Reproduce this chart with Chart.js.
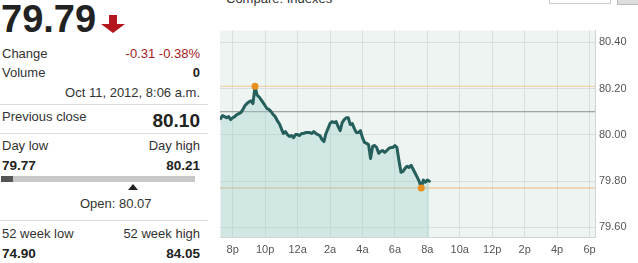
<!DOCTYPE html>
<html>
<head>
<meta charset="utf-8">
<script src="https://cdn.jsdelivr.net/npm/chart.js@4/dist/chart.umd.min.js"></script>
<style>
  body { margin: 0; width: 638px; height: 263px; overflow: hidden; background: #fff; font-family: "Liberation Sans", Arial, sans-serif; color: #333; position: relative; }
  .t { position: absolute; white-space: nowrap; font-size: 13px; line-height: 13px; }
  .r { right: 438px; text-align: right; }
  .l { left: 2px; }
  .b { font-weight: bold; color: #222; }
  .sep { position: absolute; left: 0; width: 208px; height: 1px; background: #dcdcdc; }
  #grafico { position: absolute; left: 210px; top: 20px; }
</style>
</head>
<body>

<div class="t b" style="left:1px;top:0;font-size:38px;line-height:38px;color:#222">79.79</div>
<svg style="position:absolute;left:101px;top:14px" width="26" height="20">
  <path d="M8 1 H16 V10 H24 L12 19 L0 10 H8 Z" fill="#b3161c"/>
</svg>

<div class="t l" style="top:47px">Change</div>
<div class="t r" style="top:47px;color:#a31a22">-0.31 -0.38%</div>
<div class="t l" style="top:66px">Volume</div>
<div class="t r b" style="top:66px">0</div>
<div class="t r" style="top:86px">Oct 11, 2012, 8:06 a.m.</div>
<div class="sep" style="top:104px"></div>

<div class="t l" style="top:110px">Previous close</div>
<div class="t r b" style="top:111px;font-size:19px;line-height:19px">80.10</div>
<div class="sep" style="top:133px"></div>

<div class="t l" style="top:139px">Day low</div>
<div class="t r" style="top:139px">Day high</div>
<div class="t l b" style="top:159px;font-size:13.5px">79.77</div>
<div class="t r b" style="top:159px;font-size:13.5px">80.21</div>
<div style="position:absolute;left:1px;top:176px;width:194px;height:6px;background:#c8c8c8"></div>
<div style="position:absolute;left:1px;top:176px;width:12px;height:6px;background:#555"></div>
<svg style="position:absolute;left:128px;top:184px" width="10" height="6"><path d="M5 0 L10 6 L0 6 Z" fill="#222"/></svg>
<div class="t" style="left:80px;top:197px">Open: 80.07</div>
<div class="sep" style="top:220px"></div>

<div class="t l" style="top:227px">52 week low</div>
<div class="t r" style="top:227px">52 week high</div>
<div class="t l b" style="top:247px;font-size:13.5px">74.90</div>
<div class="t r b" style="top:247px;font-size:13.5px">84.05</div>

<div class="t" style="left:226px;top:-8px;color:#333">Compare: Indexes</div>
<div style="position:absolute;left:549px;top:-10px;width:60px;height:12px;border:1px solid #ccc;background:#fff"></div>
<div style="position:absolute;left:617px;top:-10px;width:21px;height:13px;border:1px solid #bbb;background:#ddd"></div>

<canvas id="grafico" width="428" height="243"></canvas>

<script>
// hours since midnight Oct 10 (24+ = Oct 11)
const horas = [
  19.25, 19.375, 19.5, 19.625, 19.75, 19.875, 20, 20.125, 20.25, 20.375,
  20.5, 20.625, 20.75, 20.875, 21, 21.125, 21.25, 21.375, 21.5, 21.625,
  21.75, 21.875, 22, 22.125, 22.25, 22.375, 22.5, 22.625, 22.75, 22.875,
  23, 23.125, 23.25, 23.375, 23.5, 23.625, 23.75, 23.875, 24, 24.125,
  24.25, 24.375, 24.5, 24.625, 24.75, 24.875, 25, 25.125, 25.25, 25.375,
  25.5, 25.625, 25.75, 25.875, 26, 26.125, 26.25, 26.375, 26.5, 26.625,
  26.75, 26.875, 27, 27.125, 27.25, 27.375, 27.5, 27.625, 27.75, 27.875,
  28, 28.125, 28.25, 28.375, 28.5, 28.625, 28.75, 28.875, 29, 29.125,
  29.25, 29.375, 29.5, 29.625, 29.75, 29.875, 30, 30.125, 30.25, 30.375,
  30.5, 30.625, 30.75, 30.875, 31, 31.125, 31.25, 31.375, 31.5, 31.625,
  31.75, 31.875, 32, 32.125
]

const precos = [
  80.070, 80.083, 80.079, 80.074, 80.079, 80.066, 80.074, 80.079, 80.087, 80.092,
  80.096, 80.109, 80.126, 80.135, 80.143, 80.147, 80.135, 80.210, 80.173, 80.164,
  80.152, 80.139, 80.126, 80.113, 80.109, 80.100, 80.087, 80.079, 80.061, 80.049,
  80.027, 80.006, 80.014, 80.001, 79.993, 79.997, 79.988, 80.001, 80.001, 79.997,
  80.006, 80.006, 80.010, 80.010, 80.010, 80.006, 80.014, 80.006, 80.001, 79.997,
  79.980, 79.971, 80.006, 80.027, 80.049, 80.057, 80.053, 80.057, 80.036, 80.018,
  80.053, 80.066, 80.074, 80.074, 80.044, 80.049, 80.027, 80.010, 80.010, 80.018,
  79.988, 79.967, 79.963, 79.958, 79.898, 79.950, 79.954, 79.945, 79.920, 79.928,
  79.932, 79.924, 79.932, 79.941, 79.945, 79.945, 79.954, 79.945, 79.889, 79.838,
  79.842, 79.855, 79.864, 79.859, 79.868, 79.851, 79.834, 79.817, 79.799, 79.770,
  79.804, 79.795, 79.804, 79.799
]

const ticksHora = [20, 22, 24, 26, 28, 30, 32, 34, 36, 38, 40, 42]
const labelsHora = ['8p', '10p', '12a', '2a', '4a', '6a', '8a', '10a', '12p', '2p', '4p', '6p']
const ticksPreco = [79.6, 79.8, 80.0, 80.2, 80.4]

const fechamentoAnterior = 80.10
const maximaDia = 80.21
const minimaDia = 79.77
const horaMaxima = 21.375
const horaMinima = 31.625

const xMin = 19.217
const xMax = 42.337

const fundo = {
    id: 'fundo',
    beforeDraw(chart) {
        const a = chart.chartArea
        const c = chart.ctx
        c.save()
        c.fillStyle = '#eef4f1'
        c.fillRect(a.left, a.top, a.right - a.left, a.bottom - a.top)
        c.restore()
    }
}

const linhaRef = (valor, cor) => ({
    data: [{ x: xMin, y: valor }, { x: xMax, y: valor }],
    borderColor: cor,
    borderWidth: 1,
    pointRadius: 0,
    fill: false,
    order: 3
})

const ctx = document.getElementById('grafico').getContext('2d')

new Chart(ctx, {
    type: 'line',
    data: {
        datasets: [{
            data: horas.map((h, i) => ({ x: h, y: precos[i] })),
            borderColor: '#245f5b',
            borderWidth: 3,
            borderJoinStyle: 'round',
            borderCapStyle: 'round',
            backgroundColor: 'rgba(148, 204, 198, 0.32)',
            fill: 'start',
            pointRadius: 0,
            tension: 0,
            order: 1
        },
        linhaRef(fechamentoAnterior, '#8e8e8e'),
        linhaRef(maximaDia, '#f2c898'),
        linhaRef(minimaDia, '#eeb77f'),
        {
            type: 'scatter',
            data: [{ x: horaMaxima, y: maximaDia }, { x: horaMinima, y: minimaDia }],
            backgroundColor: '#e8901e',
            borderWidth: 0,
            pointRadius: 3.5,
            order: 0
        }]
    },
    options: {
        responsive: false,
        animation: false,
        layout: { padding: { left: 10, top: 9, right: 0, bottom: 0 } },
        plugins: {
            legend: { display: false },
            tooltip: { enabled: false }
        },
        scales: {
            x: {
                type: 'linear',
                min: xMin,
                max: xMax,
                afterBuildTicks: axis => { axis.ticks = ticksHora.map(v => ({ value: v })) },
                afterFit: axis => { axis.height = 26 },
                grid: { color: '#d7e0dc', drawTicks: false },
                border: { color: '#cdd6d2' },
                ticks: {
                    padding: 6,
                    color: '#555',
                    font: { family: 'Liberation Sans', size: 11 },
                    maxRotation: 0,
                    autoSkip: false,
                    callback: v => labelsHora[ticksHora.indexOf(v)]
                }
            },
            y: {
                position: 'right',
                min: 79.558,
                max: 80.451,
                afterBuildTicks: axis => { axis.ticks = ticksPreco.map(v => ({ value: v })) },
                afterFit: axis => { axis.width = 43 },
                grid: { color: '#d7e0dc', drawTicks: false },
                border: { color: '#cdd6d2' },
                ticks: {
                    padding: 4,
                    color: '#555',
                    font: { family: 'Liberation Sans', size: 11 },
                    callback: v => v.toFixed(2)
                }
            }
        }
    },
    plugins: [fundo]
})
</script>
</body>
</html>
